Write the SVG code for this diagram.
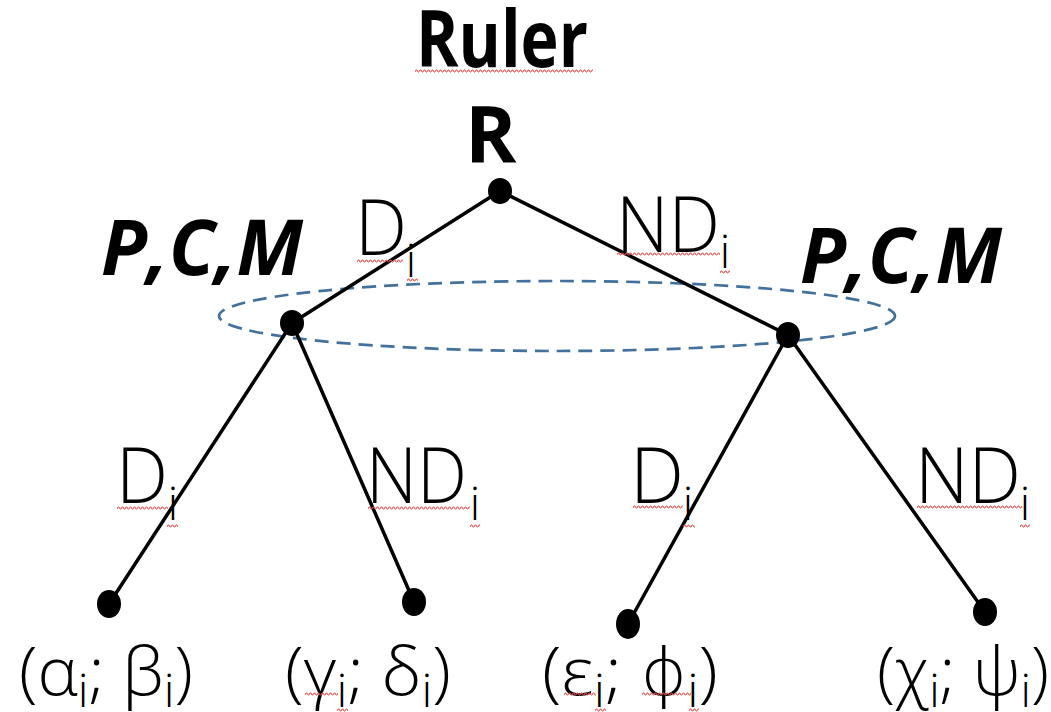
<svg xmlns="http://www.w3.org/2000/svg" width="1051" height="712" viewBox="0 0 1051 712">
<style>
.ln{stroke:#000;stroke-width:3.5;fill:none;stroke-linecap:round}
.dot{fill:#000}
.oval{fill:none;stroke:#41719C;stroke-width:2.7;stroke-dasharray:14 8}
.t{font-family:"Open Sans","Liberation Sans",sans-serif;fill:#000}
.lab{font-weight:300;font-size:78px}
.sub{font-weight:300;font-size:46px;text-anchor:middle}
.ssub{font-size:46px}
.leaf{font-weight:300;font-size:66px}
.phi{font-family:"DejaVu Sans","Noto Sans",sans-serif;font-weight:200}
.bold{font-weight:700}
.pcm{font-weight:700;font-style:italic;font-size:77px}
.sq{fill:url(#wave)}
</style>
<defs>
<pattern id="wave" width="4" height="4" patternUnits="userSpaceOnUse">
<path d="M0,3 L1,1 L2,1 L3,3 L4,3" stroke="#f04848" stroke-width="1" fill="none"/>
</pattern>
</defs>
<rect width="1051" height="712" fill="#fff"/>

<g id="title">
<text class="t bold" x="416" y="67" font-size="78" textLength="172" lengthAdjust="spacingAndGlyphs">Ruler</text>
<rect class="sq" transform="translate(415,69)" width="178" height="4"/>
</g>

<g id="selection-oval">
<ellipse class="oval" cx="557" cy="316" rx="338" ry="35"/>
</g>

<g id="connectors">
<line class="ln" x1="500" y1="191" x2="292" y2="323"/>
<line class="ln" x1="500" y1="191" x2="788" y2="335"/>
<line class="ln" x1="292" y1="323" x2="109" y2="604"/>
<line class="ln" x1="292" y1="323" x2="414" y2="602"/>
<line class="ln" x1="788" y1="335" x2="628" y2="624"/>
<line class="ln" x1="788" y1="335" x2="985" y2="612"/>
</g>

<g id="edge-labels">
<text class="t lab" x="355" y="255" font-size="74" textLength="52" lengthAdjust="spacingAndGlyphs">D</text>
<text class="t sub" x="411" y="277">i</text>
<rect class="sq" transform="translate(357,259)" width="46" height="4"/>
<rect class="sq" transform="translate(407,278)" width="11" height="4"/>

<text class="t lab" x="616" y="252" font-size="80" textLength="104" lengthAdjust="spacingAndGlyphs">ND</text>
<text class="t sub" x="725" y="268">i</text>
<rect class="sq" transform="translate(617,252)" width="103" height="4"/>
<rect class="sq" transform="translate(720,270)" width="10" height="4"/>

<text class="t lab" x="116" y="503" textLength="52" lengthAdjust="spacingAndGlyphs">D</text>
<text class="t sub" x="173" y="520">i</text>
<rect class="sq" transform="translate(117,506)" width="51" height="4"/>
<rect class="sq" transform="translate(167,524)" width="11" height="4"/>

<text class="t lab" x="366" y="503" textLength="101" lengthAdjust="spacingAndGlyphs">ND</text>
<text class="t sub" x="475" y="520">i</text>
<rect class="sq" transform="translate(368,506)" width="102" height="4"/>
<rect class="sq" transform="translate(470,524)" width="10" height="4"/>

<text class="t lab" x="630" y="503" textLength="54" lengthAdjust="spacingAndGlyphs">D</text>
<text class="t sub" x="688" y="520">i</text>
<rect class="sq" transform="translate(633,505)" width="50" height="4"/>
<rect class="sq" transform="translate(683,524)" width="12" height="4"/>

<text class="t lab" x="915" y="503" textLength="106" lengthAdjust="spacingAndGlyphs">ND</text>
<text class="t sub" x="1025" y="520">i</text>
<rect class="sq" transform="translate(917,505)" width="105" height="4"/>
<rect class="sq" transform="translate(1020,524)" width="10" height="4"/>
</g>

<g id="root">
<text class="t bold" x="465" y="163" font-size="78">R</text>
<ellipse class="dot" cx="500" cy="191" rx="12" ry="13"/>
</g>

<g id="node-left">
<text class="t pcm" x="101" y="275" textLength="202" lengthAdjust="spacingAndGlyphs">P,C,M</text>
<ellipse class="dot" cx="292" cy="323" rx="12" ry="13"/>
</g>

<g id="node-right">
<text class="t pcm" x="800" y="283" textLength="202" lengthAdjust="spacingAndGlyphs">P,C,M</text>
<ellipse class="dot" cx="788" cy="335" rx="12" ry="13"/>
</g>

<g id="leaf-1">
<ellipse class="dot" cx="109" cy="604" rx="12" ry="14"/>
<text class="t leaf" x="19" y="695" textLength="174" lengthAdjust="spacingAndGlyphs">(α<tspan class="ssub" dy="12">i</tspan><tspan dy="-12">; β</tspan><tspan class="ssub" dy="12">i</tspan><tspan dy="-12">)</tspan></text>
</g>

<g id="leaf-2">
<ellipse class="dot" cx="414" cy="602" rx="12" ry="14"/>
<text class="t leaf" x="285" y="695" textLength="166" lengthAdjust="spacingAndGlyphs">(γ<tspan class="ssub" dy="12">i</tspan><tspan dy="-12">; δ</tspan><tspan class="ssub" dy="12">i</tspan><tspan dy="-12">)</tspan></text>
<rect class="sq" transform="translate(305,692)" width="33" height="4"/>
<rect class="sq" transform="translate(337,708)" width="11" height="4"/>
</g>

<g id="leaf-3">
<ellipse class="dot" cx="628" cy="624" rx="12" ry="15"/>
<text class="t leaf" x="542" y="695" textLength="176" lengthAdjust="spacingAndGlyphs">(ε<tspan class="ssub" dy="12">i</tspan><tspan dy="-12">; </tspan><tspan class="phi">ϕ</tspan><tspan class="ssub" dy="12">i</tspan><tspan dy="-12">)</tspan></text>
<rect class="sq" transform="translate(564,692)" width="32" height="4"/>
<rect class="sq" transform="translate(595,708)" width="11" height="4"/>
<rect class="sq" transform="translate(642,692)" width="49" height="4"/>
<rect class="sq" transform="translate(689,708)" width="10" height="4"/>
</g>

<g id="leaf-4">
<ellipse class="dot" cx="985" cy="612" rx="12" ry="14"/>
<text class="t leaf" x="877" y="695" textLength="172" lengthAdjust="spacingAndGlyphs">(χ<tspan class="ssub" dy="12">i</tspan><tspan dy="-12">; ψ</tspan><tspan class="ssub" dy="12">i</tspan><tspan dy="-12">)</tspan></text>
</g>
</svg>
